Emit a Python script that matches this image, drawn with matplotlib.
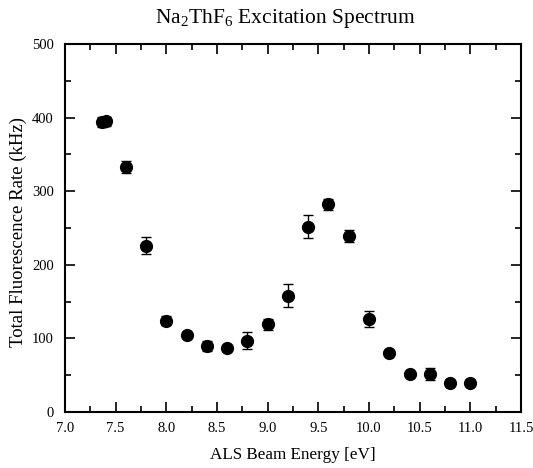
import matplotlib
matplotlib.use("Agg")
import matplotlib.pyplot as plt
from matplotlib.ticker import MultipleLocator, FormatStrFormatter

plt.rcParams['font.family'] = ['Liberation Serif', 'DejaVu Serif']
plt.rcParams['mathtext.fontset'] = 'custom'
plt.rcParams['mathtext.rm'] = 'Liberation Serif'
plt.rcParams['mathtext.it'] = 'Liberation Serif:italic'

energy = [7.37, 7.40, 7.6, 7.8, 8.0, 8.2, 8.4, 8.6, 8.8, 9.0, 9.2, 9.4, 9.6, 9.8, 10.0, 10.2, 10.4, 10.6, 10.8, 11.0]
rate = [394, 395, 333, 226, 124, 104, 90, 87, 97, 119, 158, 252, 282, 239, 126, 80, 52, 52, 40, 40]
err = [7, 6, 8, 12, 6, 3, 7, 3, 12, 8, 16, 15, 8, 8, 11, 3, 3, 8, 3, 3]

fig = plt.figure(figsize=(5.33, 4.68), dpi=100)
ax = fig.add_axes([65/533, 1-412/468, 456/533, 368/468])

ax.errorbar(energy, rate, yerr=err, fmt='o', color='black', markersize=8.5,
            ecolor='black', elinewidth=1.0, capsize=3.5, capthick=1.0)

ax.set_xlim(7.0, 11.5)
ax.set_ylim(0, 500)
ax.xaxis.set_major_locator(MultipleLocator(0.5))
ax.xaxis.set_minor_locator(MultipleLocator(0.25))
ax.yaxis.set_major_locator(MultipleLocator(100))
ax.yaxis.set_minor_locator(MultipleLocator(50))
ax.xaxis.set_major_formatter(FormatStrFormatter('%.1f'))
ax.tick_params(which='both', direction='in', top=True, right=True, labelsize=10.5, width=1.2)
ax.tick_params(which='major', length=7)
ax.tick_params(axis='x', which='major', pad=7)
ax.tick_params(axis='y', which='major', pad=8)
ax.tick_params(which='minor', length=4)
for s in ax.spines.values():
    s.set_linewidth(1.5)

fig.text(293/533, 1-455/468, 'ALS Beam Energy [eV]', fontsize=12.3, ha='center', va='center')
fig.text(18/533, 1-232/468, 'Total Fluorescence Rate (kHz)', fontsize=13.5, ha='center', va='center', rotation=90)
fig.text(285/533, 1-18/468, 'Na$_2$ThF$_6$ Excitation Spectrum', fontsize=15.5, ha='center', va='center')

fig.savefig('out.png', dpi=100)
